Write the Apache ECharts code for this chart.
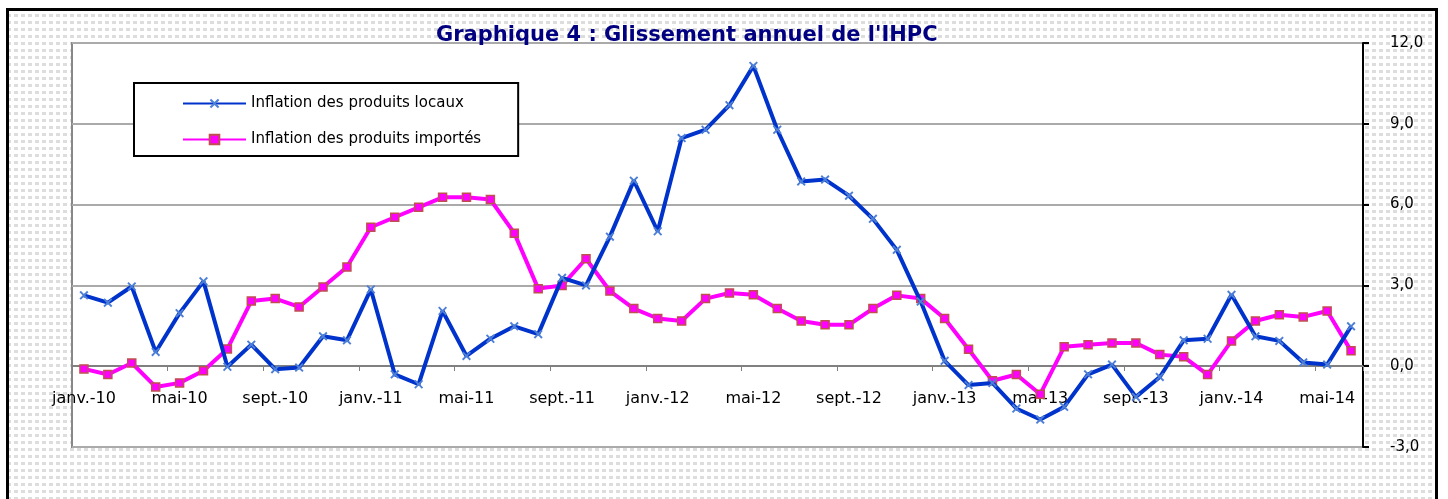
<!DOCTYPE html>
<html><head><meta charset="utf-8">
<script src="https://cdn.jsdelivr.net/npm/echarts@6/dist/echarts.min.js"></script>
<style>html,body{margin:0;padding:0;background:#fff}#c{width:1448px;height:499px}</style>
</head><body><div id="c"></div>
<script>
const monthNames = ['janv.','févr.','mars','avr.','mai','juin','juil.','août','sept.','oct.','nov.','déc.'];
const years = ['10','11','12','13','14'];
const categories = [];
years.forEach(y => monthNames.forEach(m => categories.push(m + '-' + y)));
categories.length = 54; // janv.-10 .. juin-14

const seriesNames = ['Inflation des produits locaux', 'Inflation des produits importés'];
const localValues = [
  2.63, 2.36, 2.96, 0.53, 1.97, 3.15, -0.02, 0.80, -0.11, -0.05, 1.11, 0.96,
  2.85, -0.30, -0.67, 2.05, 0.38, 1.02, 1.48, 1.19, 3.28, 3.00, 4.81, 6.89,
  5.01, 8.47, 8.78, 9.69, 11.15, 8.78, 6.86, 6.93, 6.33, 5.47, 4.32, 2.40,
  0.20, -0.70, -0.62, -1.57, -1.98, -1.51, -0.30, 0.06, -1.14, -0.40, 0.96, 1.02,
  2.65, 1.11, 0.94, 0.14, 0.06, 1.48
];
const importedValues = [
  -0.10, -0.31, 0.12, -0.77, -0.62, -0.17, 0.64, 2.42, 2.51, 2.20, 2.94, 3.68,
  5.16, 5.53, 5.90, 6.27, 6.27, 6.19, 4.94, 2.88, 3.00, 3.99, 2.79, 2.14,
  1.77, 1.68, 2.51, 2.72, 2.65, 2.14, 1.68, 1.54, 1.54, 2.14, 2.63, 2.51,
  1.77, 0.63, -0.54, -0.31, -1.04, 0.72, 0.80, 0.86, 0.86, 0.43, 0.35, -0.31,
  0.94, 1.68, 1.91, 1.83, 2.05, 0.57
];
const yTicks = [-3, 0, 3, 6, 9, 12];

// dotted background pattern
const pc = document.createElement('canvas');
pc.width = 7; pc.height = 7;
const pctx = pc.getContext('2d');
pctx.fillStyle = '#ffffff'; pctx.fillRect(0,0,7,7);
pctx.fillStyle = '#dddddd'; pctx.fillRect(0,0,4,3);

const FONT = 'DejaVu Sans, Verdana, sans-serif';
const crossPath = 'path://M0,1.5 L1.5,0 L5,3.5 L8.5,0 L10,1.5 L6.5,5 L10,8.5 L8.5,10 L5,6.5 L1.5,10 L0,8.5 L3.5,5 Z';

const chart = echarts.init(document.getElementById('c'), null, {renderer: 'canvas'});
chart.setOption({
  backgroundColor: {image: pc, repeat: 'repeat'},
  animation: false,
  textStyle: {fontFamily: FONT},
  title: {
    text: "Graphique 4 : Glissement annuel de l'IHPC",
    left: 436, top: 25, padding: 0,
    textStyle: {fontSize: 21, fontWeight: 'bold', color: '#000080', fontFamily: FONT}
  },
  graphic: [
    {type: 'rect', shape: {x: 0, y: 0, width: 1448, height: 8}, style: {fill: '#fff'}, z: -1},
    {type: 'rect', shape: {x: 0, y: 0, width: 6, height: 499}, style: {fill: '#fff'}, z: -1},
    {type: 'rect', shape: {x: 1438, y: 0, width: 10, height: 499}, style: {fill: '#fff'}, z: -1},
    {type: 'rect', shape: {x: 7.5, y: 9.5, width: 1429, height: 520}, style: {fill: 'none', stroke: '#000', lineWidth: 3}, z: 100}
  ],
  legend: {
    orient: 'vertical',
    left: 134, top: 83,
    padding: [13, 37, 9, 48],
    itemWidth: 63, itemHeight: 12, itemGap: 21,
    backgroundColor: '#fff', borderColor: '#000', borderWidth: 2,
    lineStyle: {width: 2},
    textStyle: {fontSize: 15, lineHeight: 14, color: '#000', fontFamily: FONT},
    data: seriesNames
  },
  grid: {
    left: 72, right: 85, top: 43, bottom: 52,
    show: true, backgroundColor: '#fff', borderColor: '#888', borderWidth: 2
  },
  xAxis: {
    type: 'category',
    data: categories,
    boundaryGap: true,
    offset: -81,
    axisLine: {onZero: false, lineStyle: {color: '#808080', width: 2}},
    axisTick: {show: true, interval: 3, length: 5, lineStyle: {color: '#808080', width: 1}},
    axisLabel: {interval: 3, margin: 25, fontSize: 16, color: '#000', fontFamily: FONT},
    splitLine: {show: false}
  },
  yAxis: {
    type: 'value',
    position: 'right',
    min: yTicks[0], max: yTicks[yTicks.length - 1], interval: 3,
    axisLine: {show: true, onZero: false, lineStyle: {color: '#000', width: 2}},
    axisTick: {show: true, length: 6, lineStyle: {color: '#000', width: 2}},
    axisLabel: {margin: 27, fontSize: 15, color: '#000', align: 'left', fontFamily: FONT,
      formatter: v => v.toFixed(1).replace('.', ',')},
    splitLine: {show: true, lineStyle: {color: '#aaaaaa', width: 2}}
  },
  series: [
    {
      name: seriesNames[0], type: 'line', data: localValues,
      symbol: crossPath, symbolSize: 9, showAllSymbol: true,
      lineStyle: {color: '#0033cc', width: 4},
      itemStyle: {color: '#4d7fd6', borderWidth: 0},
      z: 3
    },
    {
      name: seriesNames[1], type: 'line', data: importedValues,
      symbol: 'rect', symbolSize: 8, showAllSymbol: true,
      lineStyle: {color: '#ff00ff', width: 4},
      itemStyle: {color: '#ff00ff', borderColor: '#c0504d', borderWidth: 1.5},
      z: 2
    }
  ]
});
</script></body></html>
